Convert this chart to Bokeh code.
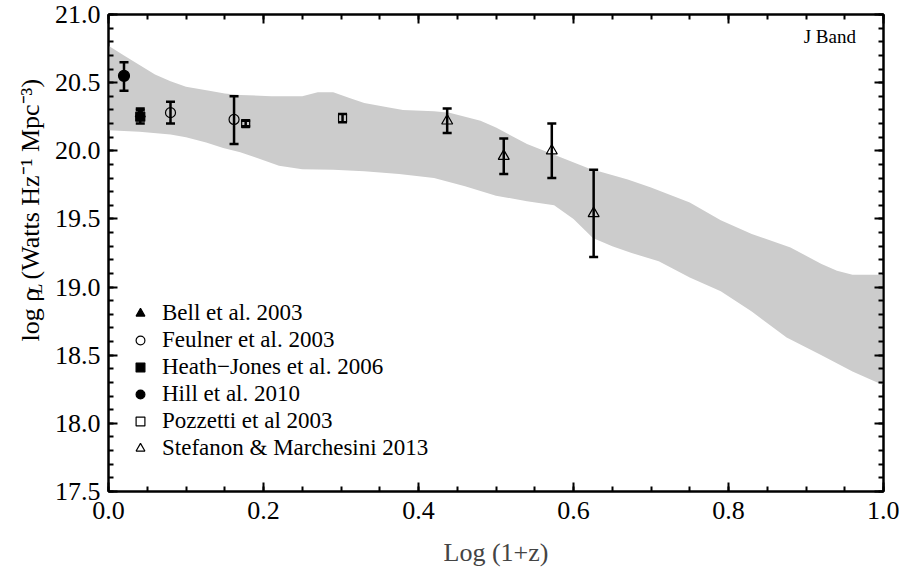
import numpy as np
from bokeh.plotting import figure
from bokeh.layouts import row
from bokeh.models import (ColumnDataSource, Whisker, TeeHead, Label, Legend, LegendItem,
                          LinearAxis, Range1d, SingleIntervalTicker, PrintfTickFormatter,
                          CustomJSTickFormatter)
from bokeh.embed import file_html
from bokeh.resources import INLINE

# ---------------- data ----------------
# grey model band (upper and lower edges)
band_upper_x = [0.0, 0.02, 0.04, 0.06, 0.08, 0.10, 0.13, 0.15, 0.17, 0.21, 0.25, 0.27, 0.29,
                0.31, 0.33, 0.36, 0.38, 0.42, 0.44, 0.46, 0.48, 0.50, 0.54, 0.58, 0.62, 0.67,
                0.70, 0.75, 0.79, 0.83, 0.88, 0.92, 0.94, 0.96, 1.0]
band_upper_y = [20.77, 20.70, 20.63, 20.56, 20.51, 20.47, 20.44, 20.42, 20.41, 20.40, 20.40, 20.43,
                20.43, 20.39, 20.35, 20.32, 20.30, 20.29, 20.28, 20.25, 20.22, 20.17, 20.05, 19.96,
                19.87, 19.79, 19.73, 19.62, 19.49, 19.39, 19.29, 19.17, 19.12, 19.09, 19.09]
band_lower_x = [0.0, 0.04, 0.08, 0.10, 0.126, 0.148, 0.17, 0.19, 0.22, 0.25, 0.29, 0.33, 0.375,
                0.42, 0.46, 0.50, 0.54, 0.575, 0.60, 0.625, 0.65, 0.675, 0.71, 0.75, 0.79, 0.83,
                0.875, 0.92, 0.96, 1.0]
band_lower_y = [20.15, 20.14, 20.12, 20.10, 20.06, 20.02, 19.99, 19.95, 19.89, 19.865, 19.86,
                19.85, 19.83, 19.80, 19.74, 19.67, 19.63, 19.60, 19.50, 19.36, 19.30, 19.25,
                19.19, 19.07, 18.97, 18.82, 18.63, 18.50, 18.38, 18.28]

# measurements: log(1+z), value, lower error, upper error
bell_x = [0.041];  bell_y = [20.27];  bell_elo = [0.04];  bell_ehi = [0.04]
feulner_x = [0.080, 0.162];  feulner_y = [20.28, 20.23]
feulner_elo = [0.08, 0.18];  feulner_ehi = [0.08, 0.17]
heath_x = [0.041];  heath_y = [20.25];  heath_elo = [0.05];  heath_ehi = [0.05]
hill_x = [0.020];  hill_y = [20.55];  hill_elo = [0.11];  hill_ehi = [0.10]
pozzetti_x = [0.177, 0.302];  pozzetti_y = [20.20, 20.24]
pozzetti_elo = [0.02, 0.03];  pozzetti_ehi = [0.02, 0.03]
stefanon_x = [0.437, 0.510, 0.572, 0.626];  stefanon_y = [20.22, 19.96, 20.00, 19.54]
stefanon_elo = [0.09, 0.13, 0.20, 0.32];  stefanon_ehi = [0.09, 0.13, 0.20, 0.32]

series_names = ["Bell et al. 2003", "Feulner et al. 2003", "Heath\u2212Jones et al. 2006",
                "Hill et al. 2010", "Pozzetti et al 2003", "Stefanon & Marchesini 2013"]

x_label = "Log (1+z)"
band_label = "J Band"
y_label_parts = ["log \u03c1", "L", "(Watts Hz\u207b\u00b9 Mpc\u207b\u00b3)"]

FONT = "Liberation Serif"

# ---------------- layout numbers ----------------
LAB_W = 50
FRAME_W, FRAME_H = 775, 477
TOP, BOTTOM, LEFT, RIGHT = 14, 78, 58, 16
TOTAL_H = TOP + FRAME_H + BOTTOM

# ---------------- main figure ----------------
p = figure(frame_width=FRAME_W, frame_height=FRAME_H, x_range=Range1d(0.0, 1.0),
           y_range=Range1d(17.5, 21.0), output_backend="svg", toolbar_location=None,
           min_border_left=LEFT, min_border_right=RIGHT, min_border_top=TOP,
           min_border_bottom=BOTTOM)
p.xgrid.visible = False
p.ygrid.visible = False
p.outline_line_color = "black"
p.outline_line_width = 2
p.background_fill_color = "white"
p.border_fill_color = "white"

# band
p.patch(band_upper_x + band_lower_x[::-1], band_upper_y + band_lower_y[::-1],
        fill_color="#cccccc", line_color=None)


def add_series(xs, ys, elo, ehi, marker, size, filled, lw=1.2):
    src = ColumnDataSource(dict(x=xs, y=ys,
                                lower=[a - b for a, b in zip(ys, elo)],
                                upper=[a + b for a, b in zip(ys, ehi)]))
    w = Whisker(base="x", upper="upper", lower="lower", source=src, dimension="height",
                line_width=2.5, line_color="black", level="annotation",
                upper_head=TeeHead(size=9, line_width=2.5, line_color="black"),
                lower_head=TeeHead(size=9, line_width=2.5, line_color="black"))
    p.add_layout(w)
    r = p.scatter("x", "y", source=src, marker=marker, size=size,
                  fill_color="black" if filled else None, line_color="black", line_width=lw)
    return r


r_bell = add_series(bell_x, bell_y, bell_elo, bell_ehi, "triangle", 10, True)
r_feul = add_series(feulner_x, feulner_y, feulner_elo, feulner_ehi, "circle", 10, False)
r_heath = add_series(heath_x, heath_y, heath_elo, heath_ehi, "square", 9, True)
r_hill = add_series(hill_x, hill_y, hill_elo, hill_ehi, "circle", 11, True)
r_pozz = add_series(pozzetti_x, pozzetti_y, pozzetti_elo, pozzetti_ehi, "square", 8, False)
r_stef = add_series(stefanon_x, stefanon_y, stefanon_elo, stefanon_ehi, "triangle", 11, False)

legend = Legend(items=[LegendItem(label=n, renderers=[r]) for n, r in
                       zip(series_names, [r_bell, r_feul, r_heath, r_hill, r_pozz, r_stef])],
                location=(21, 30), orientation="vertical", border_line_color=None,
                background_fill_alpha=0, padding=0, margin=0, spacing=1, label_standoff=11,
                glyph_width=22, glyph_height=22, label_height=20,
                label_text_font=FONT, label_text_font_size="23px", label_text_color="black")
p.add_layout(legend)


def style_axis(ax, interval, minor):
    ax.ticker = SingleIntervalTicker(interval=interval, num_minor_ticks=minor)
    ax.axis_line_width = 2
    ax.axis_line_color = "black"
    ax.major_tick_in = 9
    ax.major_tick_out = 0
    ax.minor_tick_in = 5
    ax.minor_tick_out = 0
    ax.major_tick_line_width = 2
    ax.minor_tick_line_width = 2
    ax.major_label_text_font = FONT
    ax.major_label_text_font_size = "26px"
    ax.major_label_text_color = "black"


style_axis(p.xaxis[0], 0.2, 4)
style_axis(p.yaxis[0], 0.5, 5)
p.xaxis.formatter = PrintfTickFormatter(format="%.1f")
p.yaxis.formatter = PrintfTickFormatter(format="%.1f")
p.xaxis.major_label_standoff = 10
p.yaxis.major_label_standoff = 8
p.xaxis.axis_label = x_label
p.xaxis.axis_label_text_font = FONT
p.xaxis.axis_label_text_font_size = "26px"
p.xaxis.axis_label_text_font_style = "normal"
p.xaxis.axis_label_standoff = 16

for place, interval, minor in (("above", 0.2, 4), ("right", 0.5, 5)):
    ax = LinearAxis()
    style_axis(ax, interval, minor)
    ax.formatter = CustomJSTickFormatter(code="return ''")
    ax.major_label_text_font_size = "0px"
    ax.major_label_standoff = 0
    p.add_layout(ax, place)

p.add_layout(Label(x=0.897, y=20.84, text=band_label, text_font=FONT, text_font_size="19px",
                   text_baseline="middle", text_align="left", text_color="black"))

# ---------------- narrow strip holding the rotated y-axis title ----------------
lab = figure(width=LAB_W, height=TOTAL_H, x_range=Range1d(0, LAB_W), y_range=Range1d(0, TOTAL_H),
             x_axis_type=None, y_axis_type=None, min_border=0, output_backend="svg",
             toolbar_location=None, outline_line_color=None)
lab.xgrid.visible = False
lab.ygrid.visible = False
lab.background_fill_color = "white"
lab.border_fill_color = "white"

# (font size px, style, sideways offset px, advance px along the text direction)
piece_styles = [(26, "normal", 0, 57.0),
                (18, "italic", 5, 17.0),
                (26, "normal", 0, 210.0)]
total = sum(s[3] for s in piece_styles)
center_from_top = 248
ypos = TOTAL_H - (center_from_top + total / 2)
for text, (fs, style, off, adv) in zip(y_label_parts, piece_styles):
    lab.add_layout(Label(x=30, y=ypos, text=text, angle=np.pi / 2, text_align="left",
                         text_baseline="alphabetic", x_offset=off, text_font=FONT,
                         text_font_size=f"{fs}px", text_font_style=style, text_color="black"))
    ypos += adv

layout = row(lab, p)
open("out.html", "w").write(file_html(layout, INLINE))
